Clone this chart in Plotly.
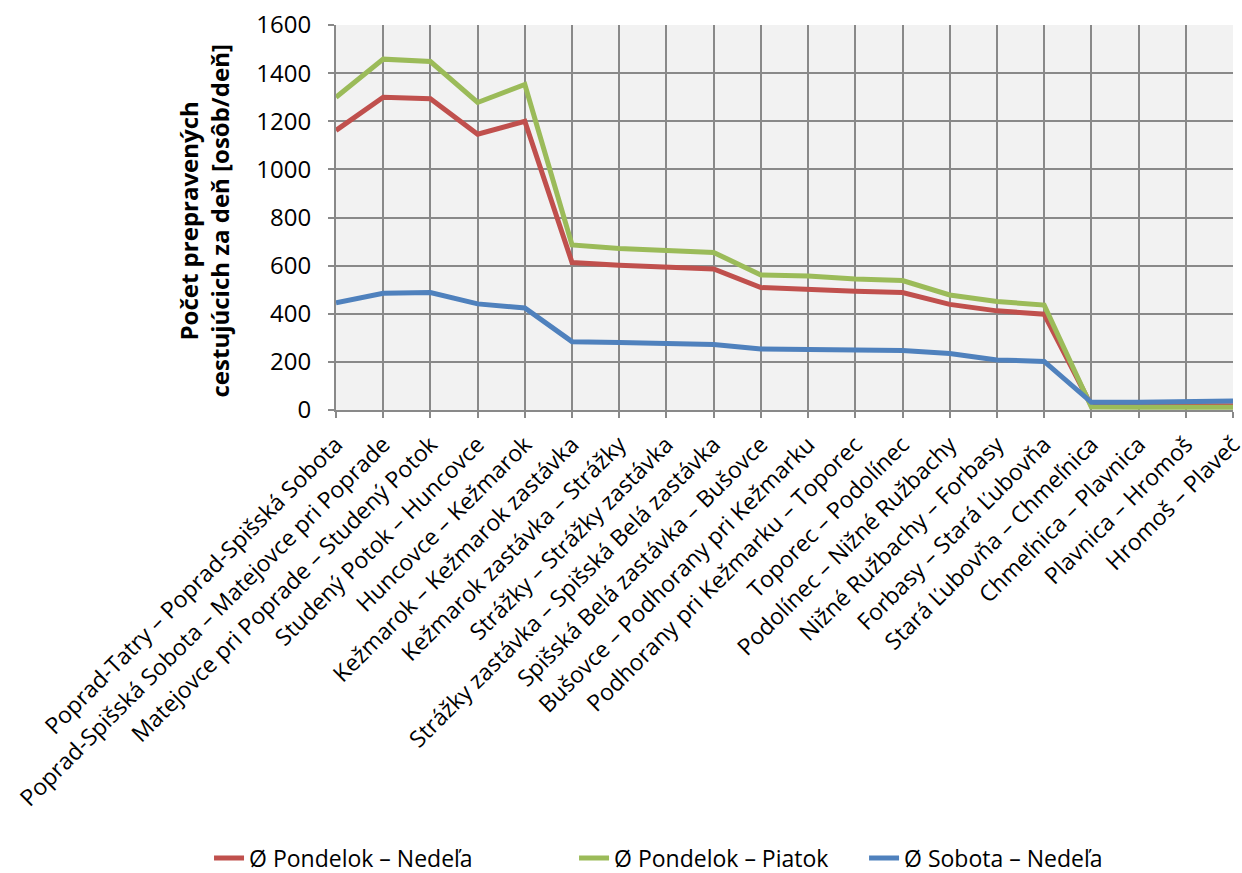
import plotly.graph_objects as go

# Úseky trate Poprad-Tatry – Plaveč
useky = [
    "Poprad-Tatry – Poprad-Spišská Sobota",
    "Poprad-Spišská Sobota – Matejovce pri Poprade",
    "Matejovce pri Poprade – Studený Potok",
    "Studený Potok – Huncovce",
    "Huncovce – Kežmarok",
    "Kežmarok – Kežmarok zastávka",
    "Kežmarok zastávka – Strážky",
    "Strážky – Strážky zastávka",
    "Strážky zastávka – Spišská Belá zastávka",
    "Spišská Belá zastávka – Bušovce",
    "Bušovce – Podhorany pri Kežmarku",
    "Podhorany pri Kežmarku – Toporec",
    "Toporec – Podolínec",
    "Podolínec – Nižné Ružbachy",
    "Nižné Ružbachy – Forbasy",
    "Forbasy – Stará Ľubovňa",
    "Stará Ľubovňa – Chmeľnica",
    "Chmeľnica – Plavnica",
    "Plavnica – Hromoš",
    "Hromoš – Plaveč",
]

# Priemerný počet cestujúcich [osôb/deň]
pondelok_nedela = [1162, 1300, 1294, 1146, 1200, 613, 602, 595, 586, 509, 504, 494, 488,
                   439, 412, 398, 18, 18, 18, 18]
pondelok_piatok = [1300, 1458, 1448, 1278, 1353, 686, 671, 665, 655, 561, 557, 544, 538,
                   478, 451, 436, 12, 11, 11, 11]
sobota_nedela = [446, 485, 488, 441, 424, 284, 281, 277, 272, 254, 252, 247, 247,
                 235, 208, 202, 32, 32, 35, 37]

series = [
    ("Ø Pondelok – Nedeľa", pondelok_nedela, "#C0504D", "legend", 0.1683),
    ("Ø Pondelok – Piatok", pondelok_piatok, "#9BBB59", "legend2", 0.4622),
    ("Ø Sobota – Nedeľa", sobota_nedela, "#4F81BD", "legend3", 0.6957),
]

font_family = "'Open Sans', 'Noto Sans', sans-serif"

fig = go.Figure()
legend_layout = {}
for name, values, color, legend_id, lx in series:
    fig.add_trace(go.Scatter(
        x=list(range(len(useky))), y=values, name=name, mode="lines",
        line=dict(color=color, width=5), cliponaxis=False, legend=legend_id,
    ))
    legend_layout[legend_id] = dict(
        orientation="h", xref="container", yref="container",
        x=lx, y=0.017, xanchor="left", yanchor="middle",
        font=dict(size=23), itemwidth=30, bgcolor="rgba(0,0,0,0)",
    )

n = len(useky)
fig.update_layout(
    width=1242, height=873,
    margin=dict(l=336, r=9, t=25, b=463, autoexpand=False),
    paper_bgcolor="white",
    plot_bgcolor="#F2F2F2",
    font=dict(family=font_family, size=22, color="black"),
    showlegend=True,
    **legend_layout,
)

fig.update_xaxes(
    tickmode="array", tickvals=list(range(n)), ticktext=useky,
    range=[0, n - 1], tickangle=-45, ticklabeloverflow="allow", automargin=False,
    showgrid=True, gridcolor="#898989", gridwidth=2,
    showline=True, linecolor="#898989", linewidth=2,
    ticks="outside", ticklen=6, tickcolor="#898989", tickwidth=2,
    zeroline=False, tickfont=dict(size=23), ticklabelstandoff=4,
)
fig.update_yaxes(
    range=[0, 1600], dtick=200, automargin=False,
    showgrid=True, gridcolor="#898989", gridwidth=2,
    showline=True, linecolor="#898989", linewidth=2,
    ticks="outside", ticklen=6, tickcolor="#898989", tickwidth=2,
    zeroline=False, tickfont=dict(size=24), ticklabelstandoff=12,
)

fig.add_annotation(
    text="<b>Počet prepravených<br>cestujúcich za deň [osôb/deň]</b>",
    xref="paper", yref="paper", x=-0.147, y=0.49,
    xanchor="center", yanchor="middle", textangle=-90,
    showarrow=False, font=dict(size=24),
)

fig.write_html("out.html")
